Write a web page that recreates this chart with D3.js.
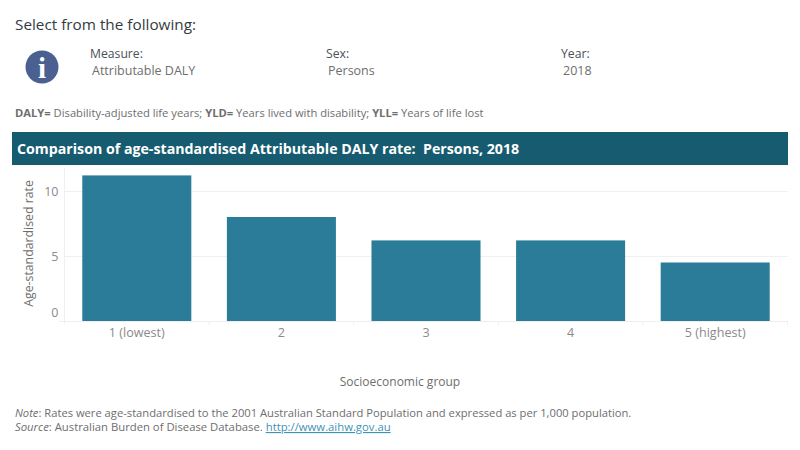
<!DOCTYPE html>
<html>
<head>
<meta charset="utf-8">
<script src="https://cdn.jsdelivr.net/npm/d3@7/dist/d3.min.js"></script>
<style>
html,body{margin:0;padding:0;background:#fff;}
svg{display:block;}
text{font-family:"Open Sans",sans-serif;white-space:pre;}
</style>
</head>
<body>
<svg id="chart" width="800" height="450"></svg>
<script>
const groups = ["1 (lowest)", "2", "3", "4", "5 (highest)"];
const rates = [11.2, 8.0, 6.2, 6.2, 4.5];
const rateTicks = [0, 5, 10];
const filters = [
  {label: "Measure:", value: "Attributable DALY"},
  {label: "Sex:", value: "Persons"},
  {label: "Year:", value: "2018"}
];
const filterX = [90, 326, 561];

const svg = d3.select("#chart");
const grey = "#6e6e6e", tick = "#8a8a8a";

function put(x, y, str, size, fill, extra) {
  const t = svg.append("text").attr("x", x).attr("y", y)
    .attr("font-size", size).attr("fill", fill).text(str);
  if (extra) extra(t);
  return t;
}

// Selector panel
put(15, 30, "Select from the following:", 15.3, "#333b42");
svg.append("circle").attr("cx", 42).attr("cy", 67).attr("r", 16.5).attr("fill", "#4a6091");
svg.append("text").attr("x", 42).attr("y", 78).attr("text-anchor", "middle")
  .attr("font-size", 29).attr("font-weight", 700).attr("fill", "#fff")
  .style("font-family", '"Liberation Serif",serif').text("i");

filters.forEach((f, i) => {
  put(filterX[i], 58, f.label, 12.2, "#4a5056");
  put(filterX[i] + 2, 75, f.value, 12.5, grey);
});

// Abbreviation key
const key = svg.append("text").attr("x", 15).attr("y", 117)
  .attr("font-size", 11.2).attr("fill", grey);
[["DALY=", 1], [" Disability-adjusted life years; ", 0], ["YLD=", 1], [" Years lived with disability; ", 0], ["YLL=", 1], [" Years of life lost", 0]]
  .forEach(([s, b]) => key.append("tspan").attr("font-weight", b ? 700 : 400).text(s));

// Title band
svg.append("rect").attr("x", 12).attr("y", 132).attr("width", 776).attr("height", 33).attr("fill", "#165b6f");
put(17, 154, "Comparison of age-standardised Attributable DALY rate:  Persons, 2018", 14.2, "#fff",
  t => t.attr("font-weight", 700));

// Chart
const plot = {left: 64.5, right: 787.5, top: 168, bottom: 321};
const x = d3.scaleBand().domain(groups).range([plot.left, plot.right]).paddingInner(0.246).paddingOuter(0.123);
const y = d3.scaleLinear().domain([0, 11.77]).range([plot.bottom, plot.top]);

const yAxis = svg.append("g").attr("transform", `translate(${plot.left},0)`)
  .call(d3.axisLeft(y).tickValues(rateTicks).tickSize(0).tickPadding(6));
yAxis.select(".domain").remove();
yAxis.selectAll("text").attr("font-size", 12.5).attr("fill", tick)
  .style("font-family", '"Open Sans",sans-serif')
  .attr("dy", d => d === 0 ? "-0.35em" : "0.32em");

// Gridlines sit behind the bars
svg.append("g").selectAll("line").data(rateTicks.filter(d => d > 0)).join("line")
  .attr("x1", plot.left).attr("x2", plot.right)
  .attr("y1", d => y(d) + 0.5).attr("y2", d => y(d) + 0.5)
  .attr("stroke", "#f0f0f0");
svg.append("line").attr("x1", plot.left).attr("x2", plot.left)
  .attr("y1", plot.top).attr("y2", plot.bottom + 3).attr("stroke", "#f0f0f0");
svg.append("line").attr("x1", 59).attr("x2", plot.right)
  .attr("y1", plot.bottom + 0.5).attr("y2", plot.bottom + 0.5).attr("stroke", "#eeeeee");

svg.append("g").selectAll("rect").data(groups).join("rect")
  .attr("x", d => x(d)).attr("width", x.bandwidth())
  .attr("y", (d, i) => y(rates[i])).attr("height", (d, i) => y(0) - y(rates[i]))
  .attr("fill", "#2a7c98");

const xAxis = svg.append("g").attr("transform", `translate(0,${plot.bottom})`)
  .call(d3.axisBottom(x).tickSize(0).tickPadding(7));
xAxis.select(".domain").remove();
xAxis.selectAll("text").attr("font-size", 12.6).attr("fill", tick)
  .style("font-family", '"Open Sans",sans-serif');

// Separators between the group bands on the baseline
svg.append("g").selectAll("line").data(groups).join("line")
  .attr("x1", d => x(d) + x.bandwidth() + x.step() * 0.123)
  .attr("x2", d => x(d) + x.bandwidth() + x.step() * 0.123)
  .attr("y1", plot.bottom).attr("y2", plot.bottom + 4).attr("stroke", "#eeeeee");

put(33, 243.5, "Age-standardised rate", 12.3, grey, t => t
  .attr("text-anchor", "middle").attr("transform", "rotate(-90 33 243.5)"));
put(400, 386, "Socioeconomic group", 12, grey, t => t.attr("text-anchor", "middle"));

// Notes
const note = svg.append("text").attr("x", 15).attr("y", 417).attr("font-size", 11.2).attr("fill", grey);
note.append("tspan").attr("font-style", "italic").text("Note");
note.append("tspan").text(": Rates were age-standardised to the 2001 Australian Standard Population and expressed as per 1,000 population.");
const src = svg.append("text").attr("x", 15).attr("y", 431).attr("font-size", 11.3).attr("fill", grey);
src.append("tspan").attr("font-style", "italic").text("Source");
src.append("tspan").text(": Australian Burden of Disease Database. ");
src.append("tspan").attr("fill", "#3d93b8").attr("text-decoration", "underline").text("http://www.aihw.gov.au");
</script>
</body>
</html>
